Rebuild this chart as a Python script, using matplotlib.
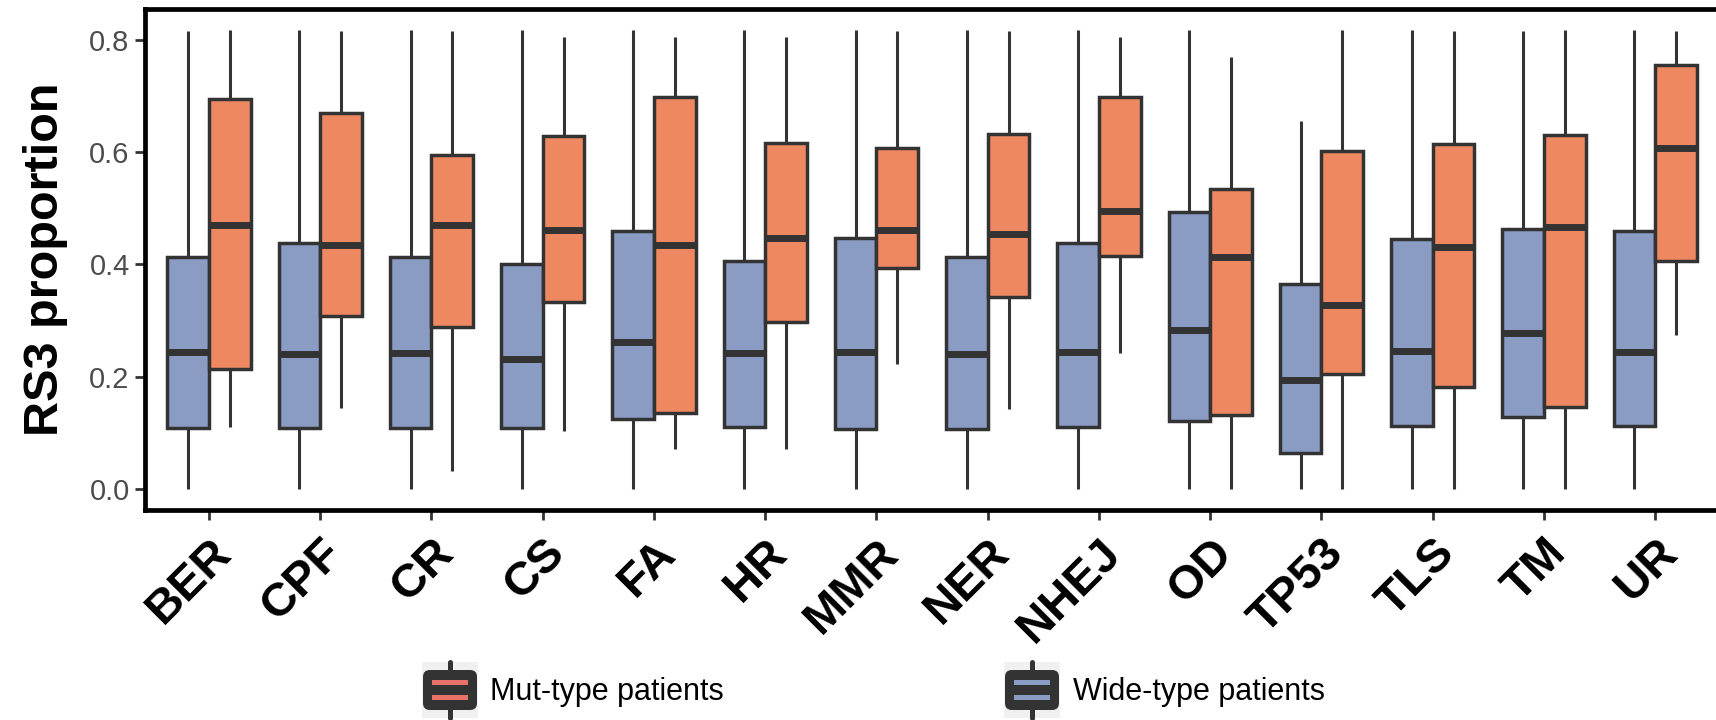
import matplotlib
matplotlib.use("Agg")
import matplotlib.pyplot as plt
from matplotlib.patches import Rectangle, FancyBboxPatch
from matplotlib.lines import Line2D

plt.rcParams['font.family'] = ['Liberation Sans', 'DejaVu Sans']

categories = ['BER', 'CPF', 'CR', 'CS', 'FA', 'HR', 'MMR', 'NER', 'NHEJ',
              'OD', 'TP53', 'TLS', 'TM', 'UR']

# wide-type patients (blue)
wt_low = [0.0] * 14
wt_q1 = [0.108, 0.108, 0.108, 0.108, 0.124, 0.110, 0.107, 0.107, 0.110,
         0.121, 0.064, 0.113, 0.129, 0.113]
wt_med = [0.244, 0.241, 0.242, 0.231, 0.262, 0.242, 0.244, 0.241, 0.244,
          0.283, 0.195, 0.246, 0.278, 0.244]
wt_q3 = [0.413, 0.438, 0.413, 0.401, 0.459, 0.407, 0.447, 0.413, 0.439,
         0.493, 0.366, 0.445, 0.464, 0.459]
wt_high = [0.815, 0.818, 0.818, 0.818, 0.818, 0.818, 0.818, 0.818, 0.818,
           0.818, 0.656, 0.818, 0.815, 0.818]

# mut-type patients (orange)
mt_low = [0.110, 0.145, 0.032, 0.104, 0.071, 0.071, 0.223, 0.143, 0.242,
          0.0, 0.0, 0.0, 0.0, 0.275]
mt_q1 = [0.214, 0.309, 0.288, 0.333, 0.136, 0.297, 0.394, 0.342, 0.415,
         0.132, 0.205, 0.181, 0.146, 0.407]
mt_med = [0.471, 0.434, 0.471, 0.461, 0.435, 0.447, 0.461, 0.454, 0.495,
          0.413, 0.328, 0.431, 0.466, 0.607]
mt_q3 = [0.695, 0.669, 0.595, 0.629, 0.698, 0.617, 0.608, 0.632, 0.699,
         0.534, 0.602, 0.614, 0.630, 0.755]
mt_high = [0.818, 0.815, 0.815, 0.805, 0.805, 0.805, 0.815, 0.815, 0.805,
           0.769, 0.818, 0.815, 0.818, 0.815]

blue = '#8A9BC4'
orange = '#EE8861'
edge = '#333333'

W, H = 1716, 720
fig = plt.figure(figsize=(W / 100, H / 100), dpi=100)
ax_left, ax_right, ax_top, ax_bottom = 145, 1722, 9, 510
ax = fig.add_axes([ax_left / W, 1 - ax_bottom / H,
                   (ax_right - ax_left) / W, (ax_bottom - ax_top) / H])


def make_stats(low, q1, med, q3, high):
    return [dict(whislo=a, q1=b, med=c, q3=d, whishi=e, fliers=[])
            for a, b, c, d, e in zip(low, q1, med, q3, high)]


box_w = 0.375
groups = [
    (make_stats(wt_low, wt_q1, wt_med, wt_q3, wt_high), -box_w / 2, blue),
    (make_stats(mt_low, mt_q1, mt_med, mt_q3, mt_high), box_w / 2, orange),
]
for stats, offset, color in groups:
    pos = [i + offset for i in range(len(categories))]
    ax.bxp(stats, positions=pos, widths=box_w, patch_artist=True,
           showcaps=False, showfliers=False, manage_ticks=False,
           boxprops=dict(facecolor=color, edgecolor=edge, linewidth=2.5),
           whiskerprops=dict(color=edge, linewidth=2.2, solid_capstyle='butt'),
           medianprops=dict(color=edge, linewidth=5.0, solid_capstyle='butt'))

ax.set_xlim(-0.575, 13.6)
ax.set_ylim(-0.0374, 0.855)
ax.set_xticks(range(len(categories)))
ax.set_xticklabels(categories, rotation=45, ha='right', va='top',
                   rotation_mode='anchor', fontsize=34, fontweight='bold',
                   color='black')
ax.set_yticks([0.0, 0.2, 0.4, 0.6, 0.8])
ax.set_yticklabels(['0.0', '0.2', '0.4', '0.6', '0.8'], fontsize=21,
                   color='#4D4D4D')
ax.tick_params(axis='both', length=7, width=2, color=edge)
ax.tick_params(axis='x', pad=8)
ax.tick_params(axis='y', pad=4)
for sp in ax.spines.values():
    sp.set_linewidth(3.4)
    sp.set_color('black')

ax.set_ylabel('RS3 proportion', fontsize=35, fontweight='bold')
ax.yaxis.set_label_coords((68 - ax_left) / (ax_right - ax_left), 0.5)


def fx(x):
    return x / W


def fy(y):
    return 1 - y / H


def draw_key(x0, fill, label, text_x):
    # key background, whisker stub, dark box glyph and two fill stripes
    fig.patches.append(Rectangle((fx(x0), fy(718)), fx(56), 56 / H,
                                 transform=fig.transFigure, zorder=0,
                                 facecolor='#F0F0F0', edgecolor='none'))
    fig.lines.append(Line2D([fx(x0 + 27.5)] * 2, [fy(718), fy(662)],
                            transform=fig.transFigure, color=edge, zorder=0.5,
                            linewidth=3.6, solid_capstyle='round'))
    fig.patches.append(FancyBboxPatch((fx(x0 + 1), fy(710)), fx(54), 40 / H,
                                      boxstyle='round,pad=0,rounding_size=0.004',
                                      transform=fig.transFigure, zorder=1,
                                      facecolor=edge, edgecolor='none',
                                      mutation_aspect=W / H))
    for y_top in (680, 695):
        fig.patches.append(Rectangle((fx(x0 + 10), fy(y_top + 5)), fx(36),
                                     5 / H, transform=fig.transFigure,
                                     zorder=2, facecolor=fill,
                                     edgecolor='none'))
    fig.text(fx(text_x), fy(700), label, fontsize=22, color='black',
             va='baseline', ha='left')


draw_key(422, '#E8716A', 'Mut-type patients', 490)
draw_key(1004, blue, 'Wide-type patients', 1073)

fig.savefig('out.png', dpi=100)
